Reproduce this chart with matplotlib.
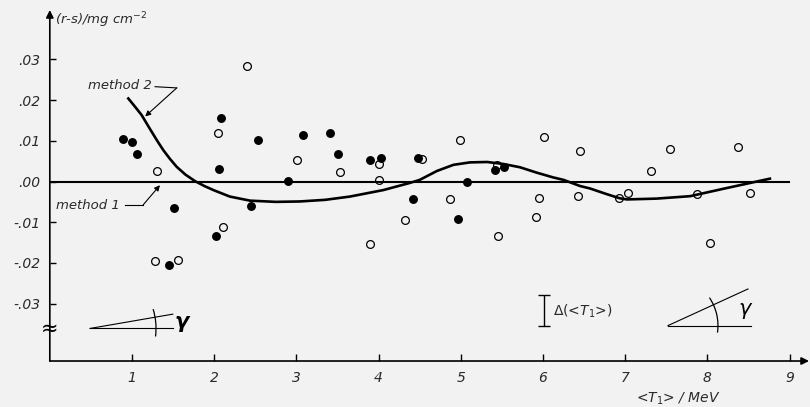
"""Differenz (r-s) gegen <T1>, mit den beiden Ausgleichskurven."""
import numpy as np
import matplotlib
matplotlib.use('Agg')
import matplotlib.pyplot as plt
import matplotlib.transforms as mtransforms
from matplotlib.patches import Arc

plt.rcParams['font.family'] = ['DejaVu Sans']
plt.rcParams['axes.unicode_minus'] = False
plt.rcParams['mathtext.fontset'] = 'dejavusans'

TXT = '#2a2a2a'
BG = '#f2f2f2'

# ---- Messpunkte -----------------------------------------------------------
t_voll = [0.894, 0.996, 1.057, 1.454, 1.507, 2.022, 2.055, 2.083, 2.448, 2.536,
          2.894, 3.080, 3.409, 3.502, 3.899, 4.029, 4.422, 4.483, 4.966, 5.072,
          5.420, 5.522]
d_voll = [0.0105, 0.0098, 0.0068, -0.0205, -0.0064, -0.0133, 0.0030, 0.0155, -0.0060, 0.0101,
          0.0002, 0.0114, 0.0119, 0.0068, 0.0054, 0.0059, -0.0043, 0.0059, -0.0092, -0.0001,
          0.0029, 0.0036]

t_offen = [1.280, 1.300, 1.563, 2.046, 2.103, 2.395, 3.011, 3.534, 3.892, 4.001,
           4.005, 4.318, 4.528, 4.865, 4.987, 5.440, 5.453, 5.915, 5.955, 6.016,
           6.426, 6.454, 6.926, 7.034, 7.318, 7.541, 7.877, 8.028, 8.372, 8.518]
d_offen = [-0.0196, 0.0026, -0.0194, 0.0119, -0.0111, 0.0285, 0.0052, 0.0023, -0.0154, 0.0044,
           0.0003, -0.0095, 0.0055, -0.0044, 0.0101, 0.0040, -0.0135, -0.0086, -0.0040, 0.0110,
           -0.0035, 0.0074, -0.0041, -0.0027, 0.0025, 0.0079, -0.0031, -0.0150, 0.0085, -0.0029]

# Methode 1: Nulllinie
t_m1 = [0.0, 8.99]
d_m1 = [0.0, 0.0]

# Methode 2: Ausgleichskurve
t_m2 = [0.955, 1.040, 1.118, 1.180, 1.240, 1.310, 1.381, 1.460, 1.544, 1.650,
        1.766, 1.88, 1.99, 2.19, 2.436, 2.75,
        3.04, 3.35, 3.65, 4.057, 4.37, 4.50, 4.71, 4.91, 5.11, 5.32,
        5.52, 5.72, 5.92, 6.125, 6.25, 6.45, 6.57, 6.775, 6.93, 7.02,
        7.38, 7.79, 8.19, 8.60, 8.76]
d_m2 = [0.0204, 0.0183, 0.0163, 0.0142, 0.0122, 0.0099, 0.0077, 0.0056, 0.0036, 0.0017,
        0.0001, -0.0011, -0.0021, -0.0037, -0.0047, -0.0050,
        -0.0049, -0.0045, -0.0037, -0.0021, -0.0004, 0.0004, 0.0026, 0.0041, 0.0047, 0.0048,
        0.0043, 0.0035, 0.0022, 0.0010, 0.0004, -0.0011, -0.0017, -0.0031, -0.0041, -0.0044,
        -0.0042, -0.0036, -0.0018, 0.0000, 0.0007]

y_ticks = [-0.03, -0.02, -0.01, 0.0, 0.01, 0.02, 0.03]
x_ticks = [1, 2, 3, 4, 5, 6, 7, 8, 9]

# Fehlerbalken Delta(<T1>)
fb_t = 6.012
fb_lo, fb_hi = -0.0354, -0.0279


def _ytick(v):
    s = f'{v:.2f}'
    return s.replace('0.', '.', 1)


def _winkel(ax, x0, y0, laenge, laenge2, winkel, r, th1, th2):
    """Winkelsymbol (zwei Schenkel + Bogen), Maße in Pixeln."""
    tr = (mtransforms.Affine2D().scale(ax.figure.dpi / 100.0)
          + mtransforms.ScaledTranslation(x0, y0, ax.transData))
    a = np.radians(winkel)
    kw = dict(color='k', lw=0.8, transform=tr, clip_on=False)
    ax.plot([0, laenge], [0, 0], **kw)
    ax.plot([0, laenge2 * np.cos(a)], [0, laenge2 * np.sin(a)], **kw)
    ax.add_patch(Arc((0, 0), 2 * r, 2 * r, theta1=th1, theta2=th2,
                     color='k', lw=0.9, transform=tr, clip_on=False))


fig = plt.figure(figsize=(8.1, 4.07), dpi=100, facecolor=BG)
ax = fig.add_axes([0.0615, 0.1130, 0.9373, 0.8624])
ax.set_facecolor(BG)
ax.set_xlim(0, 9.236)
ax.set_ylim(-0.0441, 0.04214)

for s in ax.spines.values():
    s.set_visible(False)
# Achsen mit Pfeilspitzen
ax.annotate('', xy=(0, 1), xytext=(0, 0), xycoords='axes fraction',
            arrowprops=dict(arrowstyle='-|>', color='k', lw=1.2, mutation_scale=11,
                            shrinkA=0, shrinkB=0), annotation_clip=False)
ax.annotate('', xy=(1, 0), xytext=(0, 0), xycoords='axes fraction',
            arrowprops=dict(arrowstyle='-|>', color='k', lw=1.2, mutation_scale=11,
                            shrinkA=0, shrinkB=0), annotation_clip=False)

ax.set_yticks(y_ticks)
ax.set_yticklabels([_ytick(v) for v in y_ticks])
ax.set_xticks(x_ticks)
ax.set_xticklabels([str(v) for v in x_ticks])
ax.tick_params(axis='y', direction='in', length=4, width=1, pad=7,
               labelsize=10, labelcolor=TXT)
ax.tick_params(axis='x', direction='in', length=5, width=1, pad=7,
               labelsize=10, labelcolor=TXT)
for lab in ax.get_xticklabels() + ax.get_yticklabels():
    lab.set_fontstyle('italic')

# Achsenbruch
ax.text(0, -0.0361, '≈', fontsize=15, ha='center', va='center', color='k')

# Kurven
ax.plot(t_m1, d_m1, color='k', lw=1.5, zorder=2)
ax.plot(t_m2, d_m2, color='k', lw=1.9, zorder=2, solid_joinstyle='round')

# Punkte
ax.plot(t_voll, d_voll, 'o', ms=5.4, mfc='k', mec='k', zorder=3)
ax.plot(t_offen, d_offen, 'o', ms=5.6, mfc='none', mec='k', mew=0.9, zorder=3)

# Beschriftungen
ax.text(0.063, 0.0397, '(r-s)/mg cm$^{-2}$', fontsize=9.5, style='italic',
        color=TXT, ha='left', va='center')

ax.text(1.243, 0.0235, 'method 2', fontsize=9.5, style='italic', color=TXT,
        ha='right', va='center')
ax.plot([1.281, 1.544], [0.0233, 0.0230], color='k', lw=0.8)
ax.annotate('', xy=(1.16, 0.0160), xytext=(1.544, 0.0230),
            arrowprops=dict(arrowstyle='-|>', color='k', lw=0.8, mutation_scale=8,
                            shrinkA=0, shrinkB=0))

ax.text(0.854, -0.0058, 'method 1', fontsize=9.5, style='italic', color=TXT,
        ha='right', va='center')
ax.plot([0.916, 1.137], [-0.0057, -0.0057], color='k', lw=0.8)
ax.annotate('', xy=(1.34, -0.0009), xytext=(1.137, -0.0057),
            arrowprops=dict(arrowstyle='-|>', color='k', lw=0.8, mutation_scale=8,
                            shrinkA=0, shrinkB=0))

# Fehlerbalken
ax.errorbar([fb_t], [(fb_lo + fb_hi) / 2], yerr=[(fb_hi - fb_lo) / 2],
            fmt='none', ecolor='k', elinewidth=1.0, capsize=4, capthick=1.0)
ax.text(6.12, -0.0318, r'$\Delta$(<$T_1$>)', fontsize=10, color=TXT,
        ha='left', va='center')

# Winkelsymbole
_winkel(ax, 0.489, -0.0361, 83, 84, 9.8, 66, -7, 17)
ax.text(1.61, -0.0344, 'γ', fontsize=15, style='italic', fontweight='bold',
        color='k', ha='center', va='center')
_winkel(ax, 7.52, -0.0354, 83, 88, 24.6, 50, -8, 34)
ax.text(8.457, -0.0312, 'γ', fontsize=15, style='italic', color='k',
        ha='center', va='center')

fig.text(678 / 810, 1 - 399 / 407, '<$T_1$> / MeV', fontsize=10, style='italic',
         color=TXT, ha='center', va='center')

fig.savefig('out.png', dpi=100, facecolor=BG)
